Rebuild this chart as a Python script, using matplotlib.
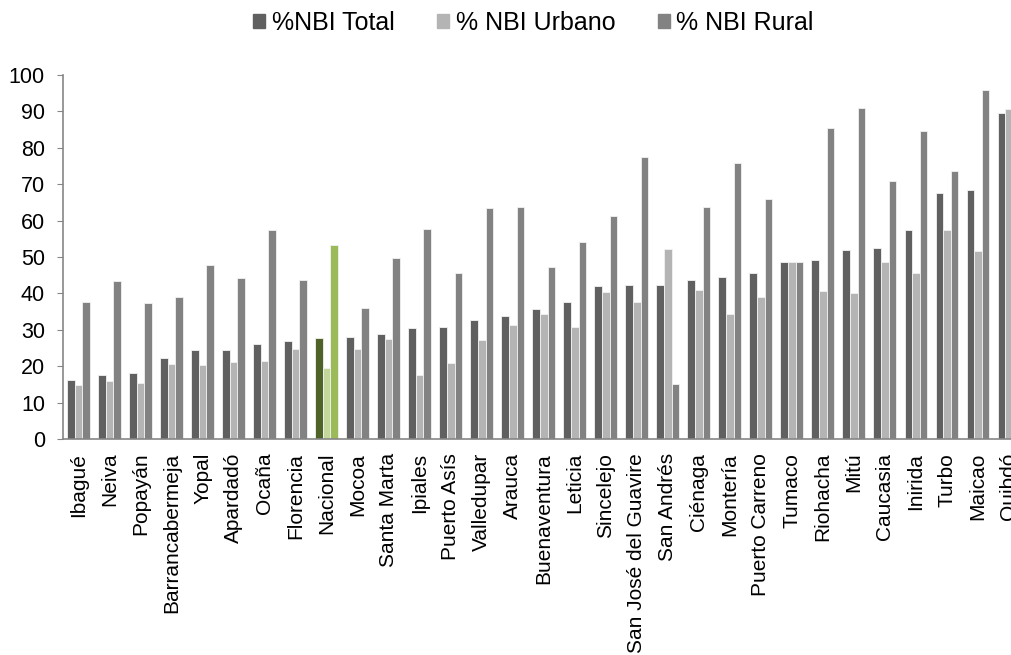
import matplotlib.pyplot as plt
import numpy as np

plt.rcParams['font.family'] = ['Liberation Sans', 'DejaVu Sans']

############------input-----##############
ciudades = ['Ibagué', 'Neiva', 'Popayán', 'Barrancabermeja', 'Yopal', 'Apardadó',
            'Ocaña', 'Florencia', 'Nacional', 'Mocoa', 'Santa Marta', 'Ipiales',
            'Puerto Asís', 'Valledupar', 'Arauca', 'Buenaventura', 'Leticia',
            'Sincelejo', 'San José del Guavire', 'San Andrés', 'Ciénaga', 'Montería',
            'Puerto Carreno', 'Tumaco', 'Riohacha', 'Mitú', 'Caucasia', 'Inirida',
            'Turbo', 'Maicao', 'Quibdó']

nbi_total = [16.2, 17.7, 18.0, 22.3, 24.5, 24.5, 26.1, 26.8, 27.8, 27.9, 28.9, 30.6,
             30.7, 32.7, 33.7, 35.8, 37.6, 42.0, 42.3, 42.3, 43.8, 44.5, 45.6, 48.7,
             49.1, 51.8, 52.4, 57.5, 67.5, 68.4, 89.6]
nbi_urbano = [14.8, 15.9, 15.5, 20.5, 20.4, 21.2, 21.5, 24.8, 19.6, 24.7, 27.4, 17.6,
              20.9, 27.2, 31.4, 34.4, 30.8, 40.4, 37.5, 52.1, 40.8, 34.2, 39.0, 48.7,
              40.6, 40.2, 48.6, 45.7, 57.5, 51.6, 90.6]
nbi_rural = [37.5, 43.4, 37.3, 39.0, 47.8, 44.2, 57.5, 43.7, 53.4, 36.0, 49.7, 57.7,
             45.6, 63.5, 63.7, 47.3, 54.0, 61.3, 77.4, 15.0, 63.6, 75.9, 66.0, 48.6,
             85.4, 90.9, 70.8, 84.5, 73.6, 96.0, 78.6]

series = ['%NBI Total', '% NBI Urbano', '% NBI Rural']
colores = ['#606060', '#b4b4b4', '#828282']
colores_nacional = ['#4f6228', '#c3d69b', '#9bbb59']
resaltado = 'Nacional'
##########################################

fig = plt.figure(figsize=(10.12, 6.55), dpi=100)
ax = fig.add_axes([0.0623, 0.3298, 0.95, 0.5557])

x = np.arange(len(ciudades))
w = 0.245
datos = [nbi_total, nbi_urbano, nbi_rural]

for k in range(3):
    cols = [colores_nacional[k] if c == resaltado else colores[k] for c in ciudades]
    ax.bar(x + (k - 1) * w, datos[k], width=w, color=cols, edgecolor='#f2f2f2',
           linewidth=0.6, label=series[k])

ax.set_xlim(-0.5, len(ciudades) - 0.5)
ax.set_ylim(0, 100)
ax.set_yticks(np.arange(0, 101, 10))
ax.set_xticks(x)
ax.set_xticklabels(ciudades, rotation=90, fontsize=15)
ax.tick_params(axis='y', labelsize=15.5, length=4, color='#868686', pad=9)
ax.tick_params(axis='x', length=0, pad=10)

for s in ['top', 'right']:
    ax.spines[s].set_visible(False)
for s in ['left', 'bottom']:
    ax.spines[s].set_color('#868686')
    ax.spines[s].set_linewidth(1.2)

#legend
handles = [plt.Rectangle((0, 0), 1, 1, color=c) for c in colores]
fig.legend(handles, series, loc='upper center', bbox_to_anchor=(0.527, 1.018), ncol=3,
           frameon=False, fontsize=18, handlelength=0.5, handleheight=0.5,
           handletextpad=0.25, columnspacing=1.7)

plt.savefig('out.png')
